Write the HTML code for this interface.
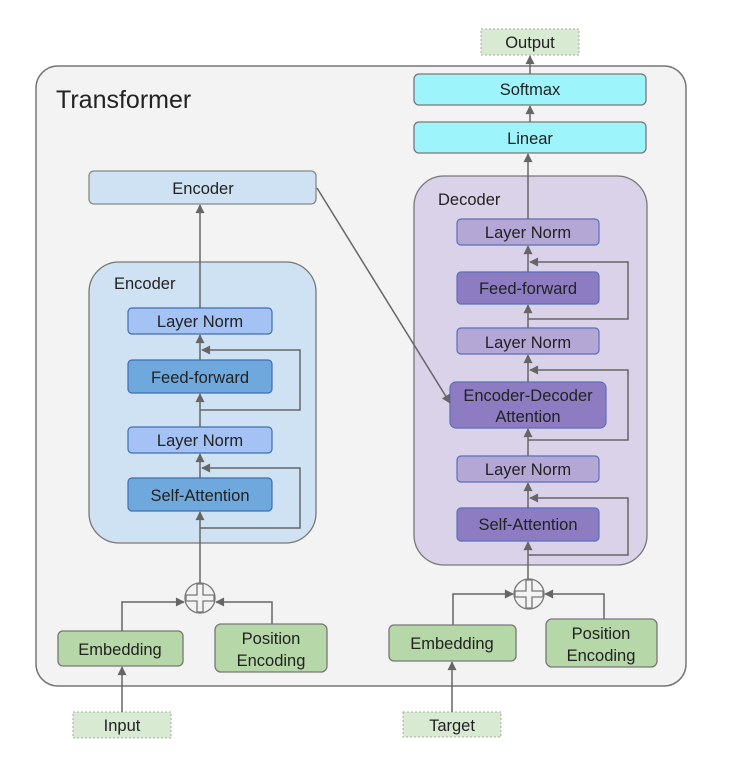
<!DOCTYPE html>
<html><head><meta charset="utf-8"><style>
html,body{margin:0;padding:0;background:#fff;}
svg{display:block;}
text{font-family:"Liberation Sans",Arial,sans-serif;fill:#222;}
</style></head><body>
<svg width="750" height="765" viewBox="0 0 750 765" xmlns="http://www.w3.org/2000/svg">
<defs>
<marker id="a" viewBox="0 0 10 10" refX="9" refY="5" markerWidth="10" markerHeight="9" orient="auto-start-reverse" markerUnits="userSpaceOnUse"><path d="M0,0 L10,5 L0,10 Z" fill="#666"/></marker>
</defs>
<rect x="36" y="66" width="650" height="620" rx="22" fill="#f3f3f3" stroke="#777" stroke-width="1.5"/>
<text x="56" y="108" font-size="25">Transformer</text>

<!-- Output -->
<rect x="481" y="29" width="98" height="26" fill="#d9ead3" stroke="#aaa" stroke-dasharray="2,2"/>
<text x="530" y="48" font-size="16.5" text-anchor="middle">Output</text>
<rect x="414" y="74" width="232" height="31" rx="5" fill="#9ef4fb" stroke="#777" stroke-width="1.3"/>
<text x="530" y="95" font-size="16.5" text-anchor="middle">Softmax</text>
<rect x="414" y="122" width="232" height="31" rx="5" fill="#9ef4fb" stroke="#777" stroke-width="1.3"/>
<text x="530" y="144" font-size="16.5" text-anchor="middle">Linear</text>

<!-- Encoder top -->
<rect x="89" y="171" width="227" height="33" rx="5" fill="#cfe2f3" stroke="#888" stroke-width="1.3"/>
<text x="203" y="194" font-size="16.5" text-anchor="middle">Encoder</text>

<!-- Encoder container -->
<rect x="89" y="262" width="227" height="281" rx="30" fill="#cfe2f3" stroke="#777" stroke-width="1.3"/>
<text x="114" y="289" font-size="16.5">Encoder</text>
<g stroke="#3d6fb0" stroke-width="1.2">
<rect x="128" y="308" width="144" height="26" rx="4" fill="#a4c2f4"/>
<rect x="128" y="360" width="144" height="33" rx="4" fill="#6fa8dc"/>
<rect x="128" y="427" width="144" height="26" rx="4" fill="#a4c2f4"/>
<rect x="128" y="478" width="144" height="33" rx="4" fill="#6fa8dc"/>
</g>
<g font-size="16.5" text-anchor="middle">
<text x="200" y="327">Layer Norm</text>
<text x="200" y="383">Feed-forward</text>
<text x="200" y="446">Layer Norm</text>
<text x="200" y="501">Self-Attention</text>
</g>

<!-- Decoder container -->
<rect x="414" y="176" width="233" height="389" rx="30" fill="#d9d2e9" stroke="#777" stroke-width="1.3"/>
<text x="438" y="205" font-size="16.5">Decoder</text>
<g stroke="#5b6fb8" stroke-width="1.2">
<rect x="457" y="219" width="142" height="26" rx="4" fill="#b4a7d6"/>
<rect x="457" y="272" width="142" height="32" rx="4" fill="#8e7cc3"/>
<rect x="457" y="328" width="142" height="26" rx="4" fill="#b4a7d6"/>
<rect x="450" y="382" width="156" height="46" rx="6" fill="#8e7cc3"/>
<rect x="457" y="456" width="142" height="26" rx="4" fill="#b4a7d6"/>
<rect x="457" y="508" width="142" height="33" rx="4" fill="#8e7cc3"/>
</g>
<g font-size="16.5" text-anchor="middle">
<text x="528" y="238">Layer Norm</text>
<text x="528" y="294">Feed-forward</text>
<text x="528" y="348">Layer Norm</text>
<text x="528" y="401">Encoder-Decoder</text>
<text x="528" y="422">Attention</text>
<text x="528" y="475">Layer Norm</text>
<text x="528" y="530">Self-Attention</text>
</g>

<!-- Bottom boxes -->
<g stroke="#777" stroke-width="1.3" fill="#b6d7a8">
<rect x="58" y="631" width="125" height="35" rx="5"/>
<rect x="215" y="624" width="112" height="48" rx="6"/>
<rect x="389" y="625" width="127" height="36" rx="5"/>
<rect x="546" y="619" width="111" height="48" rx="6"/>
</g>
<g font-size="16.5" text-anchor="middle">
<text x="120" y="655">Embedding</text>
<text x="271" y="644">Position</text>
<text x="271" y="666">Encoding</text>
<text x="452" y="649">Embedding</text>
<text x="601" y="639">Position</text>
<text x="601" y="661">Encoding</text>
</g>
<rect x="73" y="712" width="98" height="26" fill="#d9ead3" stroke="#aaa" stroke-dasharray="2,2"/>
<text x="122" y="731" font-size="16.5" text-anchor="middle">Input</text>
<rect x="403" y="712" width="98" height="25" fill="#d9ead3" stroke="#aaa" stroke-dasharray="2,2"/>
<text x="452" y="731" font-size="16.5" text-anchor="middle">Target</text>

<!-- plus circles -->
<g stroke="#777" stroke-width="1.3" fill="#f3f3f3">
<circle cx="200" cy="598" r="15"/>
<circle cx="529" cy="594" r="15"/>
</g>
<g stroke="#777" stroke-width="1.3" fill="none">
<path d="M197,584 h6 v11 h11 v6 h-11 v11 h-6 v-11 h-11 v-6 h11 z"/>
<path d="M526,580 h6 v11 h11 v6 h-11 v11 h-6 v-11 h-11 v-6 h11 z"/>
</g>

<!-- connectors -->
<g stroke="#666" stroke-width="1.5" fill="none" marker-end="url(#a)">
<line x1="530" y1="74" x2="530" y2="56"/>
<line x1="530" y1="122" x2="530" y2="106"/>
<line x1="528" y1="219" x2="528" y2="154"/>
<line x1="200" y1="308" x2="200" y2="205"/>
<line x1="200" y1="360" x2="200" y2="335"/>
<line x1="200" y1="427" x2="200" y2="394"/>
<line x1="200" y1="478" x2="200" y2="454"/>
<line x1="200" y1="583" x2="200" y2="512"/>
<polyline points="200,410 300,410 300,350 202,350"/>
<polyline points="200,528 300,528 300,468 202,468"/>
<polyline points="122,631 122,602 184,602"/>
<polyline points="272,624 272,602 216,602"/>
<line x1="122" y1="712" x2="122" y2="667"/>
<line x1="528" y1="272" x2="528" y2="246"/>
<line x1="528" y1="328" x2="528" y2="305"/>
<line x1="528" y1="382" x2="528" y2="355"/>
<line x1="528" y1="456" x2="528" y2="429"/>
<line x1="528" y1="508" x2="528" y2="483"/>
<line x1="528" y1="579" x2="528" y2="542"/>
<polyline points="528,319 628,319 628,262 530,262"/>
<polyline points="528,440 628,440 628,370 530,370"/>
<polyline points="528,555 628,555 628,498 530,498"/>
<polyline points="453,625 453,594 513,594"/>
<polyline points="604,619 604,594 545,594"/>
<line x1="452" y1="712" x2="452" y2="662"/>
<line x1="317" y1="188" x2="450" y2="403"/>
</g>
</svg>
</body></html>
